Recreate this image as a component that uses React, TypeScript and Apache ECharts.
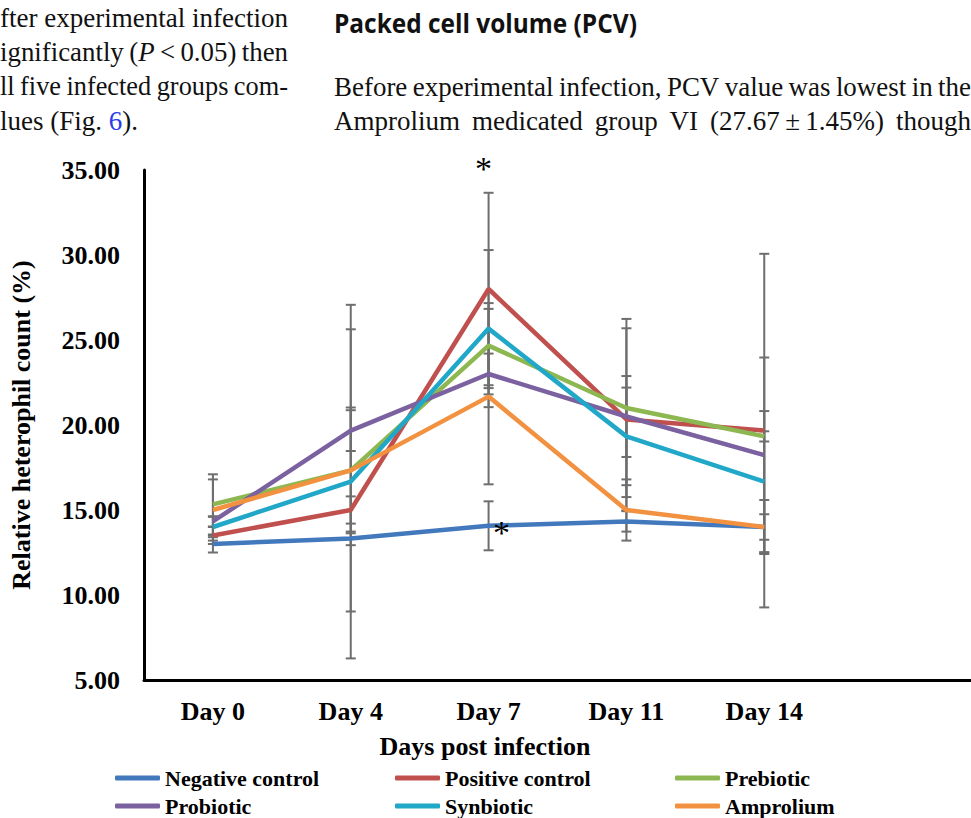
import React, { useEffect, useRef } from 'react';
import * as echarts from 'echarts';

// Sampling days and treatment groups
const days = ['Day 0', 'Day 4', 'Day 7', 'Day 11', 'Day 14'];
const groups = ['Negative control', 'Positive control', 'Prebiotic', 'Probiotic', 'Synbiotic', 'Amprolium'];
const groupColors = ['#4279BC', '#C0504D', '#8DB750', '#7B619F', '#21A7C8', '#F2913F'];

// Mean relative heterophil count (%) and its error per day
const negativeMean = [13.0, 13.33, 14.07, 14.33, 14.0];
const negativeErr = [0.5, 0.4, 1.44, 0.6, 1.59];
const positiveMean = [13.5, 15.0, 28.0, 20.33, 19.67];
const positiveErr = [0.5, 0.8, 5.66, 5.36, 10.4];
const prebioticMean = [15.33, 17.33, 24.67, 21.0, 19.33];
const prebioticErr = [1.77, 8.3, 2.5, 5.24, 0.3];
const probioticMean = [14.33, 19.67, 23.0, 20.5, 18.23];
const probioticErr = [0.3, 1.2, 1.2, 2.38, 5.74];
const synbioticMean = [14.0, 16.67, 25.67, 19.33, 16.67];
const synbioticErr = [0.6, 10.4, 4.62, 2.87, 4.15];
const amproliumMean = [15.0, 17.33, 21.67, 15.0, 14.0];
const amproliumErr = [1.8, 3.7, 5.16, 1.8, 0.75];

const means = [negativeMean, positiveMean, prebioticMean, probioticMean, synbioticMean, amproliumMean];
const errors = [negativeErr, positiveErr, prebioticErr, probioticErr, synbioticErr, amproliumErr];

// Value axis range
const yMin = 5;
const yMax = 35;
const yStep = 5;

// Significance marks: group, day, height on the value axis, label nudge
const significance = [
  { group: 'Positive control', day: 'Day 7', y: 35, dx: -5, dy: -2 },
  { group: 'Negative control', day: 'Day 7', y: 13.7, dx: 13, dy: 0 },
];

// Surrounding page text
type Seg = { t: string; italic?: boolean; color?: string };
type Line = { words: Seg[][]; justify: boolean; y: number };
const w = (t: string): Seg[] => [{ t }];
const leftColumn: Line[] = [
  { words: ['fter', 'experimental', 'infection'].map(w), justify: true, y: 18 },
  {
    words: [w('ignificantly'), [{ t: '(' }, { t: 'P', italic: true }, { t: '\u2009<\u20090.05)' }], w('then')],
    justify: true,
    y: 52,
  },
  { words: ['ll', 'five', 'infected', 'groups', 'com-'].map(w), justify: true, y: 86 },
  { words: [w('lues'), [{ t: '(Fig. ' }, { t: '6', color: '#2B3BEA' }, { t: ').' }]], justify: false, y: 121 },
];
const rightColumn: Line[] = [
  {
    words: ['Before', 'experimental', 'infection,', 'PCV', 'value', 'was', 'lowest', 'in', 'the'].map(w),
    justify: true,
    y: 87,
  },
  {
    words: ['Amprolium', 'medicated', 'group', 'VI', '(27.67\u2009\u00b1\u20091.45%)', 'though'].map(w),
    justify: true,
    y: 121,
  },
];
const heading = 'Packed cell volume (PCV)';

const SERIF = 'Liberation Serif';

function buildProse(lines: Line[], x0: number, x1: number, size: number) {
  const ctx = document.createElement('canvas').getContext('2d') as CanvasRenderingContext2D;
  const measure = (seg: Seg) => {
    ctx.font = `${seg.italic ? 'italic ' : ''}${size}px "${SERIF}"`;
    return ctx.measureText(seg.t).width;
  };
  const space = measure({ t: ' ' });
  const els: any[] = [];
  lines.forEach((line) => {
    const widths = line.words.map((wd) => wd.reduce((s, seg) => s + measure(seg), 0));
    const total = widths.reduce((a, b) => a + b, 0);
    const n = line.words.length;
    const avail = x1 - x0;
    // squeeze glyphs horizontally when the words cannot fit with a minimal gap
    const minGap = space * 0.8;
    const sx = line.justify && total + minGap * (n - 1) > avail ? (avail - minGap * (n - 1)) / total : 1;
    const gap = line.justify && n > 1 ? (avail - total * sx) / (n - 1) : space;
    let x = x0;
    line.words.forEach((wd, i) => {
      let px = x;
      wd.forEach((seg) => {
        els.push({
          type: 'text',
          x: px,
          y: line.y,
          scaleX: sx,
          silent: true,
          style: {
            text: seg.t,
            fontFamily: SERIF,
            fontSize: size,
            fontStyle: seg.italic ? 'italic' : 'normal',
            fill: seg.color || '#111',
            verticalAlign: 'middle',
          },
        });
        px += measure(seg) * sx;
      });
      x += widths[i] * sx + gap;
    });
  });
  return els;
}

export default function App() {
  const ref = useRef<HTMLDivElement>(null);

  useEffect(() => {
    if (!ref.current) return;
    const chart = echarts.init(ref.current, null, { renderer: 'svg' });

    const categories = [...days, ''];

    const errorSeries = groups.map((g, gi) => ({
      type: 'custom',
      name: g + ' error',
      z: 1,
      silent: true,
      data: days.map((_, i) => [i, means[gi][i] - errors[gi][i], means[gi][i] + errors[gi][i]]),
      encode: { x: 0, y: [1, 2] },
      renderItem: (params: any, api: any) => {
        const idx = api.value(0);
        const lo = api.coord([idx, api.value(1)]);
        const hi = api.coord([idx, api.value(2)]);
        const half = 5;
        const style = { stroke: '#6E6E6E', lineWidth: 2 };
        return {
          type: 'group',
          children: [
            { type: 'line', shape: { x1: lo[0], y1: lo[1], x2: hi[0], y2: hi[1] }, style },
            { type: 'line', shape: { x1: lo[0] - half, y1: lo[1], x2: lo[0] + half, y2: lo[1] }, style },
            { type: 'line', shape: { x1: hi[0] - half, y1: hi[1], x2: hi[0] + half, y2: hi[1] }, style },
          ],
        };
      },
    }));

    const lineSeries = groups.map((g, gi) => {
      const marks = significance.filter((s) => s.group === g);
      return {
        type: 'line',
        name: g,
        z: 3,
        data: means[gi],
        symbol: 'none',
        showSymbol: false,
        color: groupColors[gi],
        lineStyle: { width: 4.5, color: groupColors[gi] },
        emphasis: { disabled: true },
        markPoint: marks.length
          ? {
              silent: true,
              symbol: 'circle',
              symbolSize: 0,
              data: marks.map((m) => ({
                coord: [m.day, m.y],
                label: {
                  show: true,
                  formatter: '*',
                  position: 'inside',
                  offset: [m.dx, m.dy],
                  color: '#000',
                  fontFamily: SERIF,
                  fontSize: 34,
                },
              })),
            }
          : undefined,
      };
    });

    // one legend block per group, laid out in a 3 x 2 grid
    const legendLefts = [115, 395, 675];
    const legendTops = [767, 795];
    const legends = groups.map((g, i) => ({
      left: legendLefts[i % 3],
      top: legendTops[Math.floor(i / 3)],
      orient: 'horizontal',
      icon: 'roundRect',
      itemWidth: 45,
      itemHeight: 5,
      itemGap: 0,
      padding: 0,
      selectedMode: false,
      data: [g],
      textStyle: { fontFamily: SERIF, fontWeight: 'bold', fontSize: 22, color: '#000' },
    }));

    chart.setOption({
      animation: false,
      backgroundColor: '#fff',
      grid: { left: 144, right: 0, top: 170, bottom: 138, containLabel: false },
      xAxis: {
        type: 'category',
        data: categories,
        boundaryGap: true,
        axisLine: { lineStyle: { color: '#000', width: 3 } },
        axisTick: { show: false },
        axisLabel: { color: '#000', fontFamily: SERIF, fontWeight: 'bold', fontSize: 26, margin: 18 },
      },
      yAxis: {
        type: 'value',
        min: yMin,
        max: yMax,
        interval: yStep,
        splitLine: { show: false },
        axisLine: { show: true, lineStyle: { color: '#000', width: 3 } },
        axisTick: { show: false },
        axisLabel: {
          color: '#000',
          fontFamily: SERIF,
          fontWeight: 'bold',
          fontSize: 26,
          margin: 24,
          formatter: (v: number) => v.toFixed(2),
        },
        name: 'Relative heterophil count (%)',
        nameLocation: 'middle',
        nameRotate: 90,
        nameGap: 110,
        nameTextStyle: { color: '#000', fontFamily: SERIF, fontWeight: 'bold', fontSize: 26 },
      },
      legend: legends,
      graphic: [
        {
          type: 'text',
          x: 485,
          y: 746,
          silent: true,
          style: {
            text: 'Days post infection',
            fontFamily: SERIF,
            fontWeight: 'bold',
            fontSize: 26,
            fill: '#000',
            align: 'center',
            verticalAlign: 'middle',
          },
        },
        {
          type: 'text',
          x: 334,
          y: 23,
          scaleX: 0.94,
          silent: true,
          style: {
            text: heading,
            fontFamily: 'Open Sans',
            fontWeight: 'bold',
            fontSize: 26,
            fill: '#111',
            verticalAlign: 'middle',
          },
        },
        ...buildProse(leftColumn, 0, 288, 27),
        ...buildProse(rightColumn, 334, 971, 27),
      ],
      series: [...errorSeries, ...lineSeries],
    });

    return () => chart.dispose();
  }, []);

  return <div ref={ref} style={{ position: 'absolute', left: 0, top: 0, width: 971, height: 818 }} />;
}
